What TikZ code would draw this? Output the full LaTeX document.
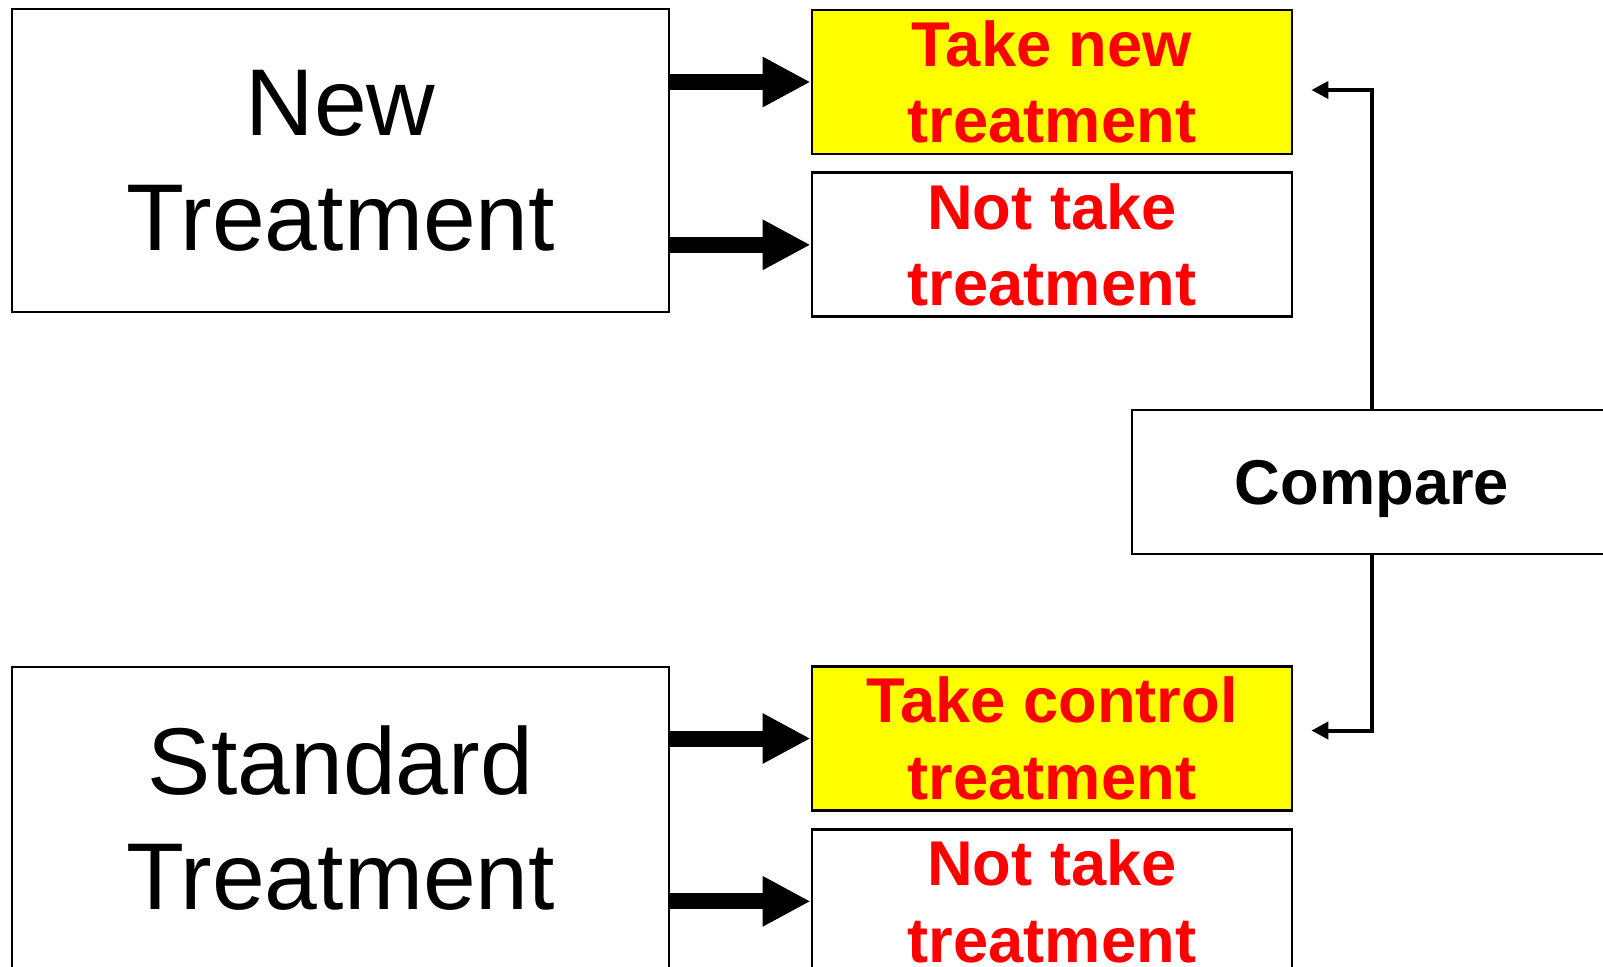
\documentclass[tikz,border=0pt]{standalone}
\usepackage{fontspec}
\setmainfont{Liberation Sans}
\usetikzlibrary{positioning,arrows.meta}
\definecolor{hlyellow}{RGB}{255,255,0}

\begin{document}
\begin{tikzpicture}[
    node distance=0.16cm,
    group/.style={draw, line width=0.5pt, align=center, inner sep=0pt, minimum width=6.57cm, minimum height=3.03cm, font=\fontsize{27}{32.7}\selectfont},
    outcome/.style={draw, line width=0.8pt, align=center, inner sep=0pt, minimum width=4.8cm, minimum height=1.44cm, text=red, font=\fontsize{18}{21.8}\selectfont\bfseries},
    taken/.style={outcome, fill=hlyellow},
    bigarrow/.style={-{Triangle[length=0.48cm, width=0.47cm]}, line width=0.16cm},
    backarrow/.style={-{Triangle[length=0.17cm, width=0.17cm]}, line width=0.04cm}
  ]
    \clip (0,0) rectangle (16.03,9.66);
    \node[group] (new) at (3.405,8.055) {New\\Treatment};
    \node[group] (std) at (3.405,1.475) {Standard\\Treatment};
    \node[taken] (take1) at (10.52,8.84) {Take new\\treatment};
    \node[outcome, below=of take1] (not1) {Not take\\treatment};
    \node[taken] (take2) at (10.52,2.275) {Take control\\treatment};
    \node[outcome, below=of take2] (not2) {Not take\\treatment};
    \node[outcome, text=black, text depth=0pt] (cmp) at (13.72,4.84) {Compare};
    \draw[bigarrow] (new.east |- take1.west) -- (take1.west);
    \draw[bigarrow] (new.east |- not1.west) -- (not1.west);
    \draw[bigarrow] (std.east |- take2.west) -- (take2.west);
    \draw[bigarrow] (std.east |- not2.west) -- (not2.west);
    \draw[backarrow] (cmp.north) |- ([xshift=0.18cm, yshift=-0.08cm]take1.east);
    \draw[backarrow] (cmp.south) |- ([xshift=0.18cm, yshift=0.08cm]take2.east);
  \end{tikzpicture}
\end{document}
